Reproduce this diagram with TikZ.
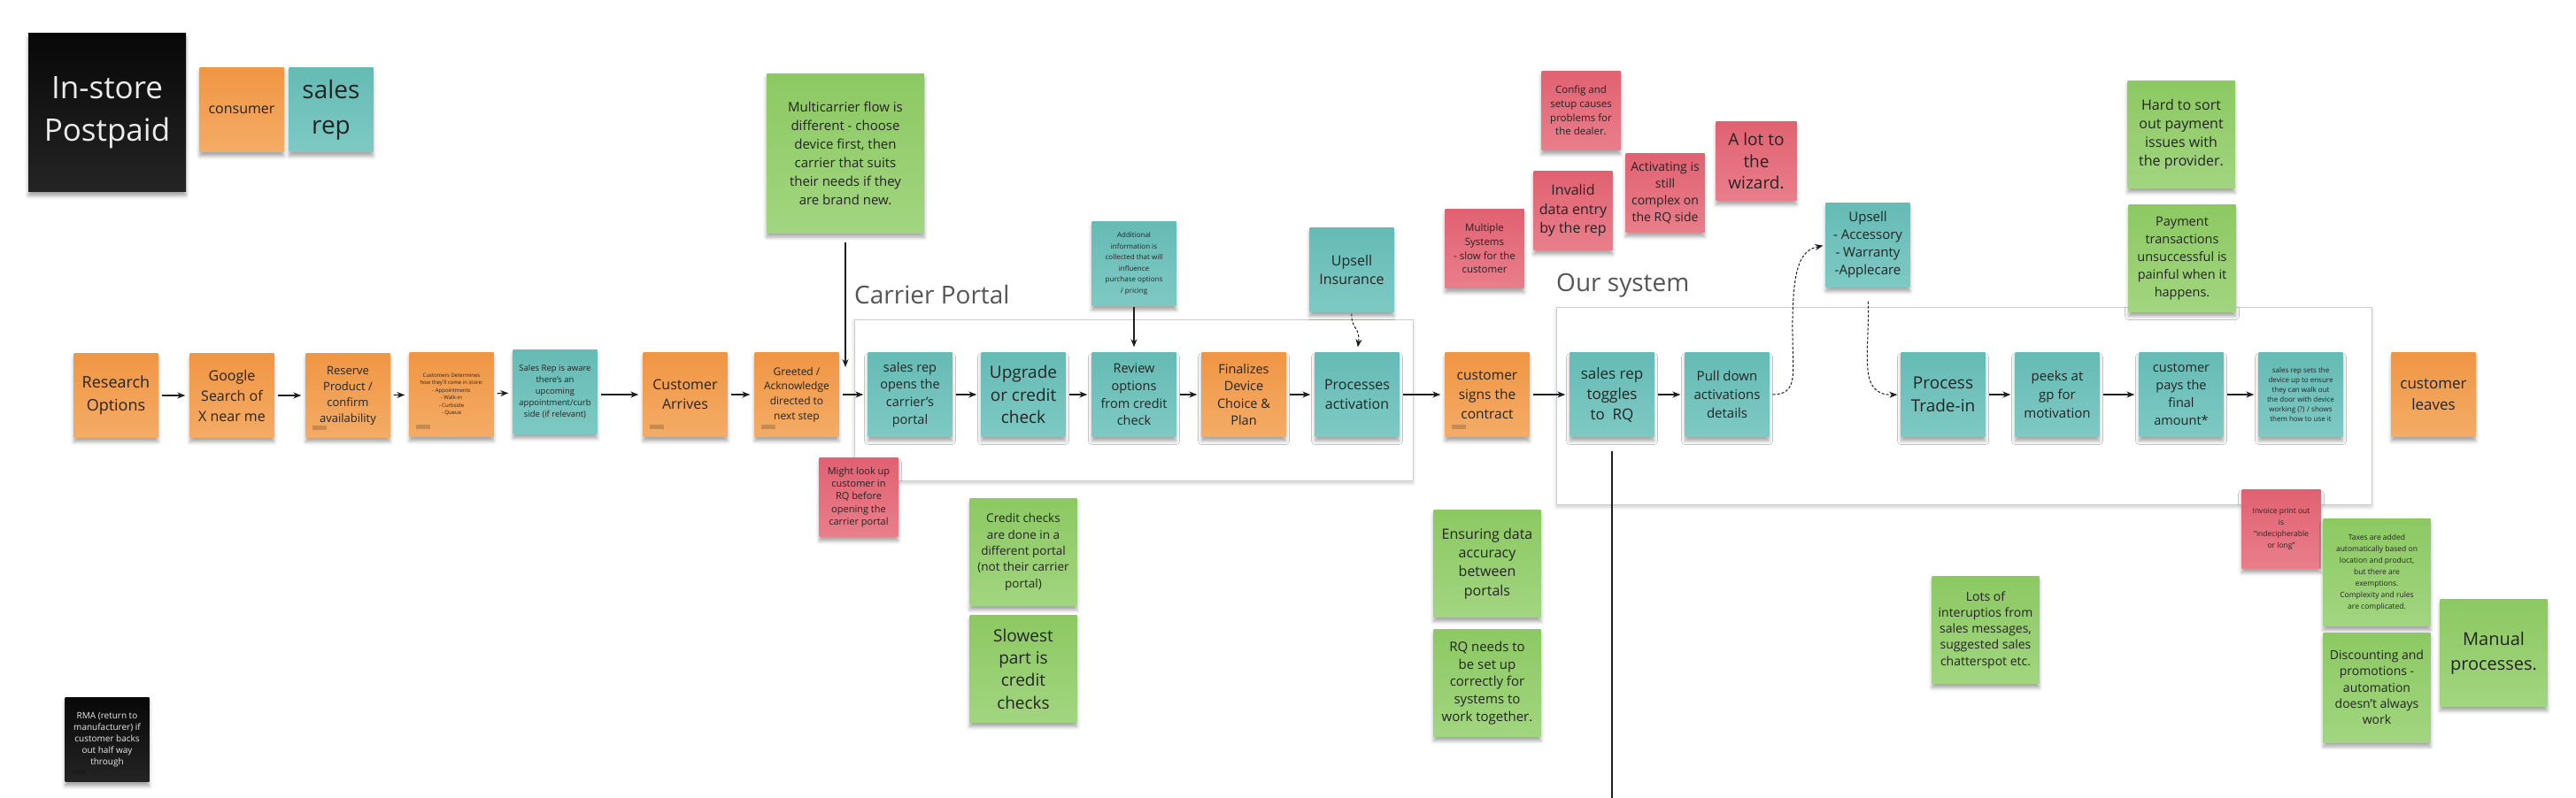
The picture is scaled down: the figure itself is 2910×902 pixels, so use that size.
\documentclass[tikz,border=0pt]{standalone}
\usepackage{fontspec}
\setmainfont{Open Sans}
\usetikzlibrary{arrows.meta,shadows.blur}
\definecolor{or1}{RGB}{240,150,68}
\definecolor{or2}{RGB}{244,172,102}
\definecolor{te1}{RGB}{102,187,181}
\definecolor{te2}{RGB}{126,201,196}
\definecolor{gr1}{RGB}{140,201,98}
\definecolor{gr2}{RGB}{162,213,128}
\definecolor{rd1}{RGB}{225,98,114}
\definecolor{rd2}{RGB}{233,126,139}
\definecolor{bk1}{RGB}{8,8,8}
\definecolor{bk2}{RGB}{36,36,36}
\definecolor{txt}{RGB}{36,36,36}
\definecolor{lbl}{RGB}{85,85,85}
\definecolor{frm}{RGB}{205,205,205}
\definecolor{lnk}{RGB}{30,30,30}
\newcommand\fs[2]{\fontsize{#1}{#2}\selectfont}
\tikzset{
  note/.style={inner sep=0pt, align=center, text=txt,
    blur shadow={shadow xshift=0pt, shadow yshift=-5pt, shadow blur radius=4pt, shadow opacity=35}},
  sorange/.style={note, top color=or1, bottom color=or2},
  steal/.style={note, top color=te1, bottom color=te2},
  sgreen/.style={note, top color=gr1, bottom color=gr2},
  sred/.style={note, top color=rd1, bottom color=rd2},
  sblack/.style={note, top color=bk1, bottom color=bk2, text=white!92!black},
  sq/.style={minimum width=95pt, minimum height=95pt},
  sm/.style={minimum width=89pt, minimum height=89pt},
  bg/.style={minimum width=121pt, minimum height=121pt},
  tagd/.style={path picture={\fill[black,opacity=0.18] ([xshift=7pt,yshift=9pt]path picture bounding box.south west) rectangle ++(16pt,5pt);}},
  frame/.style={draw=frm, line width=1pt, fill=white, inner sep=0pt,
    blur shadow={shadow xshift=0pt, shadow yshift=-3pt, shadow blur radius=4pt, shadow opacity=20}},
  lbltext/.style={anchor=base west, inner sep=0pt, text=lbl, font=\fs{28}{34}},
  arr/.style={draw=lnk, line width=1.2pt, -{Stealth[length=9pt,width=7pt]}, shorten <=4pt, shorten >=5pt},
  darr/.style={arr, line width=1pt, dash pattern=on 3pt off 2pt},
  plainline/.style={draw=lnk, line width=1.2pt}
}
\begin{document}
\begin{tikzpicture}[x=1pt,y=-1pt]
\useasboundingbox (0,0) rectangle (2910,902);

% frames
\node[frame, minimum width=631pt, minimum height=182pt] (cpbox) at (1280.5,452) {};
\node[frame, minimum width=921pt, minimum height=223pt] (osbox) at (2218.5,458.5) {};
\node[lbltext] (cplabel) at (965,343) {Carrier Portal};
\node[lbltext] (oslabel) at (1758,329) {Our system};

% legend
\node[sblack, minimum width=178pt, minimum height=179pt, font=\fs{35}{48}] (title) at (121,127) {In-store\\Postpaid};
\node[sorange, sq, font=\fs{16}{21}] (consumer) at (273,124) {consumer};
\node[steal, sq, font=\fs{28}{40}] (salesrep) at (374,124) {sales\\rep};

% main row
\node[sorange, sq, font=\fs{18}{26}] (research) at (131,447) {Research\\Options};
\node[sorange, sq, font=\fs{16}{23}] (google) at (262,447) {Google\\Search of\\X near me};
\node[sorange, sq, tagd, font=\fs{13}{18}] (reserve) at (393,447) {Reserve\\Product /\\confirm\\availability};
\node[sorange, sq, tagd, font=\fs{6}{8.5}] (custdet) at (510,446) {Customers Determines\\how they'll come in store:\\- Appointments\\- Walk-in\\- Curbside\\- Queue};
\node[steal, sq, font=\fs{9.5}{13}] (salesaware) at (627,443) {Sales Rep is aware\\there's an\\upcoming\\appointment/curb\\side (if relevant)};
\node[sorange, sq, tagd, font=\fs{16}{21.5}] (arrives) at (774,446) {Customer\\Arrives};
\node[sorange, sq, tagd, font=\fs{12}{16.7}] (greeted) at (900,446) {Greeted /\\Acknowledge\\directed to\\next step};
\node[steal, sq, font=\fs{14.5}{19.6}] (opens) at (1028,446) {sales rep\\opens the\\carrier's\\portal};
\node[steal, sq, font=\fs{19}{25.5}] (upgrade) at (1156,446) {Upgrade\\or credit\\check};
\node[steal, sq, font=\fs{14.5}{19.6}] (review) at (1281,446) {Review\\options\\from credit\\check};
\node[sorange, sq, font=\fs{14.5}{19.6}] (finalizes) at (1405,446) {Finalizes\\Device\\Choice \&\\Plan};
\node[steal, sq, font=\fs{16}{21.7}] (processes) at (1533,446) {Processes\\activation};
\node[sorange, sq, tagd, font=\fs{15.5}{22}] (signs) at (1680,446) {customer\\signs the\\contract};
\node[steal, sq, font=\fs{17}{23}] (toggles) at (1821,446) {sales rep\\toggles\\to\ \ RQ};
\node[steal, sq, font=\fs{15}{21}] (pull) at (1951,446) {Pull down\\activations\\details};
\node[steal, sq, font=\fs{19}{26}] (trade) at (2195,446) {Process\\Trade-in};
\node[steal, sq, font=\fs{15}{21}] (peeks) at (2324,446) {peeks at\\gp for\\motivation};
\node[steal, sq, font=\fs{14.5}{20}] (pays) at (2464,446) {customer\\pays the\\final\\amount*};
\node[steal, sq, font=\fs{8}{11}] (sets) at (2599,446) {sales rep sets the\\device up to ensure\\they can walk out\\the door with device\\working (?) / shows\\them how to use it};
\node[sorange, sq, font=\fs{17}{24}] (leaves) at (2749,446) {customer\\leaves};

% upper notes
\node[sgreen, minimum width=178pt, minimum height=180pt, font=\fs{15}{21}] (multicarrier) at (955,173) {Multicarrier flow is\\different - choose\\device first, then\\carrier that suits\\their needs if they\\are brand new.};
\node[steal, sq, font=\fs{8}{12.5}] (addinfo) at (1281,298) {Additional\\information is\\collected that will\\influence\\purchase options\\/ pricing};
\node[steal, sq, font=\fs{16}{21.7}] (upsellins) at (1527,305) {Upsell\\Insurance};
\node[sred, sm, font=\fs{11.5}{15.7}] (config) at (1786,125) {Config and\\setup causes\\problems for\\the dealer.};
\node[sred, sm, font=\fs{16}{21.5}] (invalid) at (1777,238) {Invalid\\data entry\\by the rep};
\node[sred, sm, font=\fs{14}{18.7}] (activating) at (1881,218) {Activating is\\still\\complex on\\the RQ side};
\node[sred, sm, minimum width=91pt, font=\fs{19}{24.7}] (wizard) at (1984,182) {A lot to\\the\\wizard.};
\node[sred, sm, font=\fs{11.5}{15.7}] (multiple) at (1677,281) {Multiple\\Systems\\- slow for the\\customer};
\node[steal, sq, font=\fs{15}{20}] (upsellacc) at (2110,277) {Upsell\\- Accessory\\- Warranty\\-Applecare};
\node[sgreen, bg, font=\fs{16}{21}] (hard) at (2464,152) {Hard to sort\\out payment\\issues with\\the provider.};
\node[sgreen, bg, font=\fs{14.5}{20}] (payment) at (2465,292) {Payment\\transactions\\unsuccessful is\\painful when it\\happens.};

% lower notes
\node[sred, sm, font=\fs{11}{14.4}] (mightlook) at (970,562) {Might look up\\customer in\\RQ before\\opening the\\carrier portal};
\node[sgreen, bg, font=\fs{13.5}{18.3}] (creditchecks) at (1156,624) {Credit checks\\are done in a\\different portal\\(not their carrier\\portal)};
\node[sgreen, bg, font=\fs{19}{25.3}] (slowest) at (1156,756) {Slowest\\part is\\credit\\checks};
\node[sgreen, bg, font=\fs{16}{21.3}] (ensuring) at (1680,637) {Ensuring data\\accuracy\\between\\portals};
\node[sgreen, bg, font=\fs{15}{19.7}] (rqneeds) at (1680,772) {RQ needs to\\be set up\\correctly for\\systems to\\work together.};
\node[sgreen, bg, font=\fs{14}{18.3}] (lots) at (2243,712) {Lots of\\interuptios from\\sales messages,\\suggested sales\\chatterspot etc.};
\node[sred, sm, font=\fs{8.5}{13}] (invoice) at (2577,598) {Invoice print out\\is\\“indecipherable\\or long”};
\node[sgreen, bg, font=\fs{8.5}{13}] (taxes) at (2685,647) {Taxes are added\\automatically based on\\location and product,\\but there are\\exemptions.\\Complexity and rules\\are complicated.};
\node[sgreen, bg, minimum height=124pt, font=\fs{14}{18.3}] (discounting) at (2685,777) {Discounting and\\promotions -\\automation\\doesn’t always\\work};
\node[sgreen, bg, font=\fs{20}{27.7}] (manual) at (2817,738) {Manual\\processes.};
\node[sblack, sq, tagd, font=\fs{10}{13}] (rma) at (121,836) {RMA (return to\\manufacturer) if\\customer backs\\out half way\\through};

% main flow connectors
\draw[arr] (research) -- (google);
\draw[arr] (google) -- (reserve);
\draw[arr] (reserve) -- (custdet);
\draw[arr] (custdet) -- (salesaware);
\draw[arr] (salesaware.east |- arrives.west) -- (arrives);
\draw[arr] (arrives) -- (greeted);
\draw[arr] (greeted) -- (opens);
\draw[arr] (opens) -- (upgrade);
\draw[arr] (upgrade) -- (review);
\draw[arr] (review) -- (finalizes);
\draw[arr] (finalizes) -- (processes);
\draw[arr] (processes) -- (signs);
\draw[arr] (signs) -- (toggles);
\draw[arr] (toggles) -- (pull);
\draw[arr] (trade) -- (peeks);
\draw[arr] (peeks) -- (pays);
\draw[arr] (pays) -- (sets);

% other connectors
\coordinate (mcend) at (955,415);
\draw[arr, shorten <=11pt, shorten >=0pt] (multicarrier.south) -- (mcend);
\draw[arr, shorten <=1pt, shorten >=6pt] (addinfo) -- (review);
\draw[darr, shorten <=2pt, shorten >=6pt] (upsellins.south) .. controls (1526,372) and (1537,370) .. (processes.north);
\coordinate (tgend) at (1821,902);
\draw[plainline, shorten <=16pt] (toggles.south) -- (tgend);
\draw[darr, shorten <=4pt, shorten >=3pt] (pull.east) .. controls (2032,446) and (2025,420) .. (2025,380) .. controls (2024,300) and (2034,283) .. (upsellacc.west);
\draw[darr, shorten <=16pt, shorten >=4pt] (upsellacc.south) .. controls (2112,400) and (2098,447) .. (trade.west);
\end{tikzpicture}
\end{document}
